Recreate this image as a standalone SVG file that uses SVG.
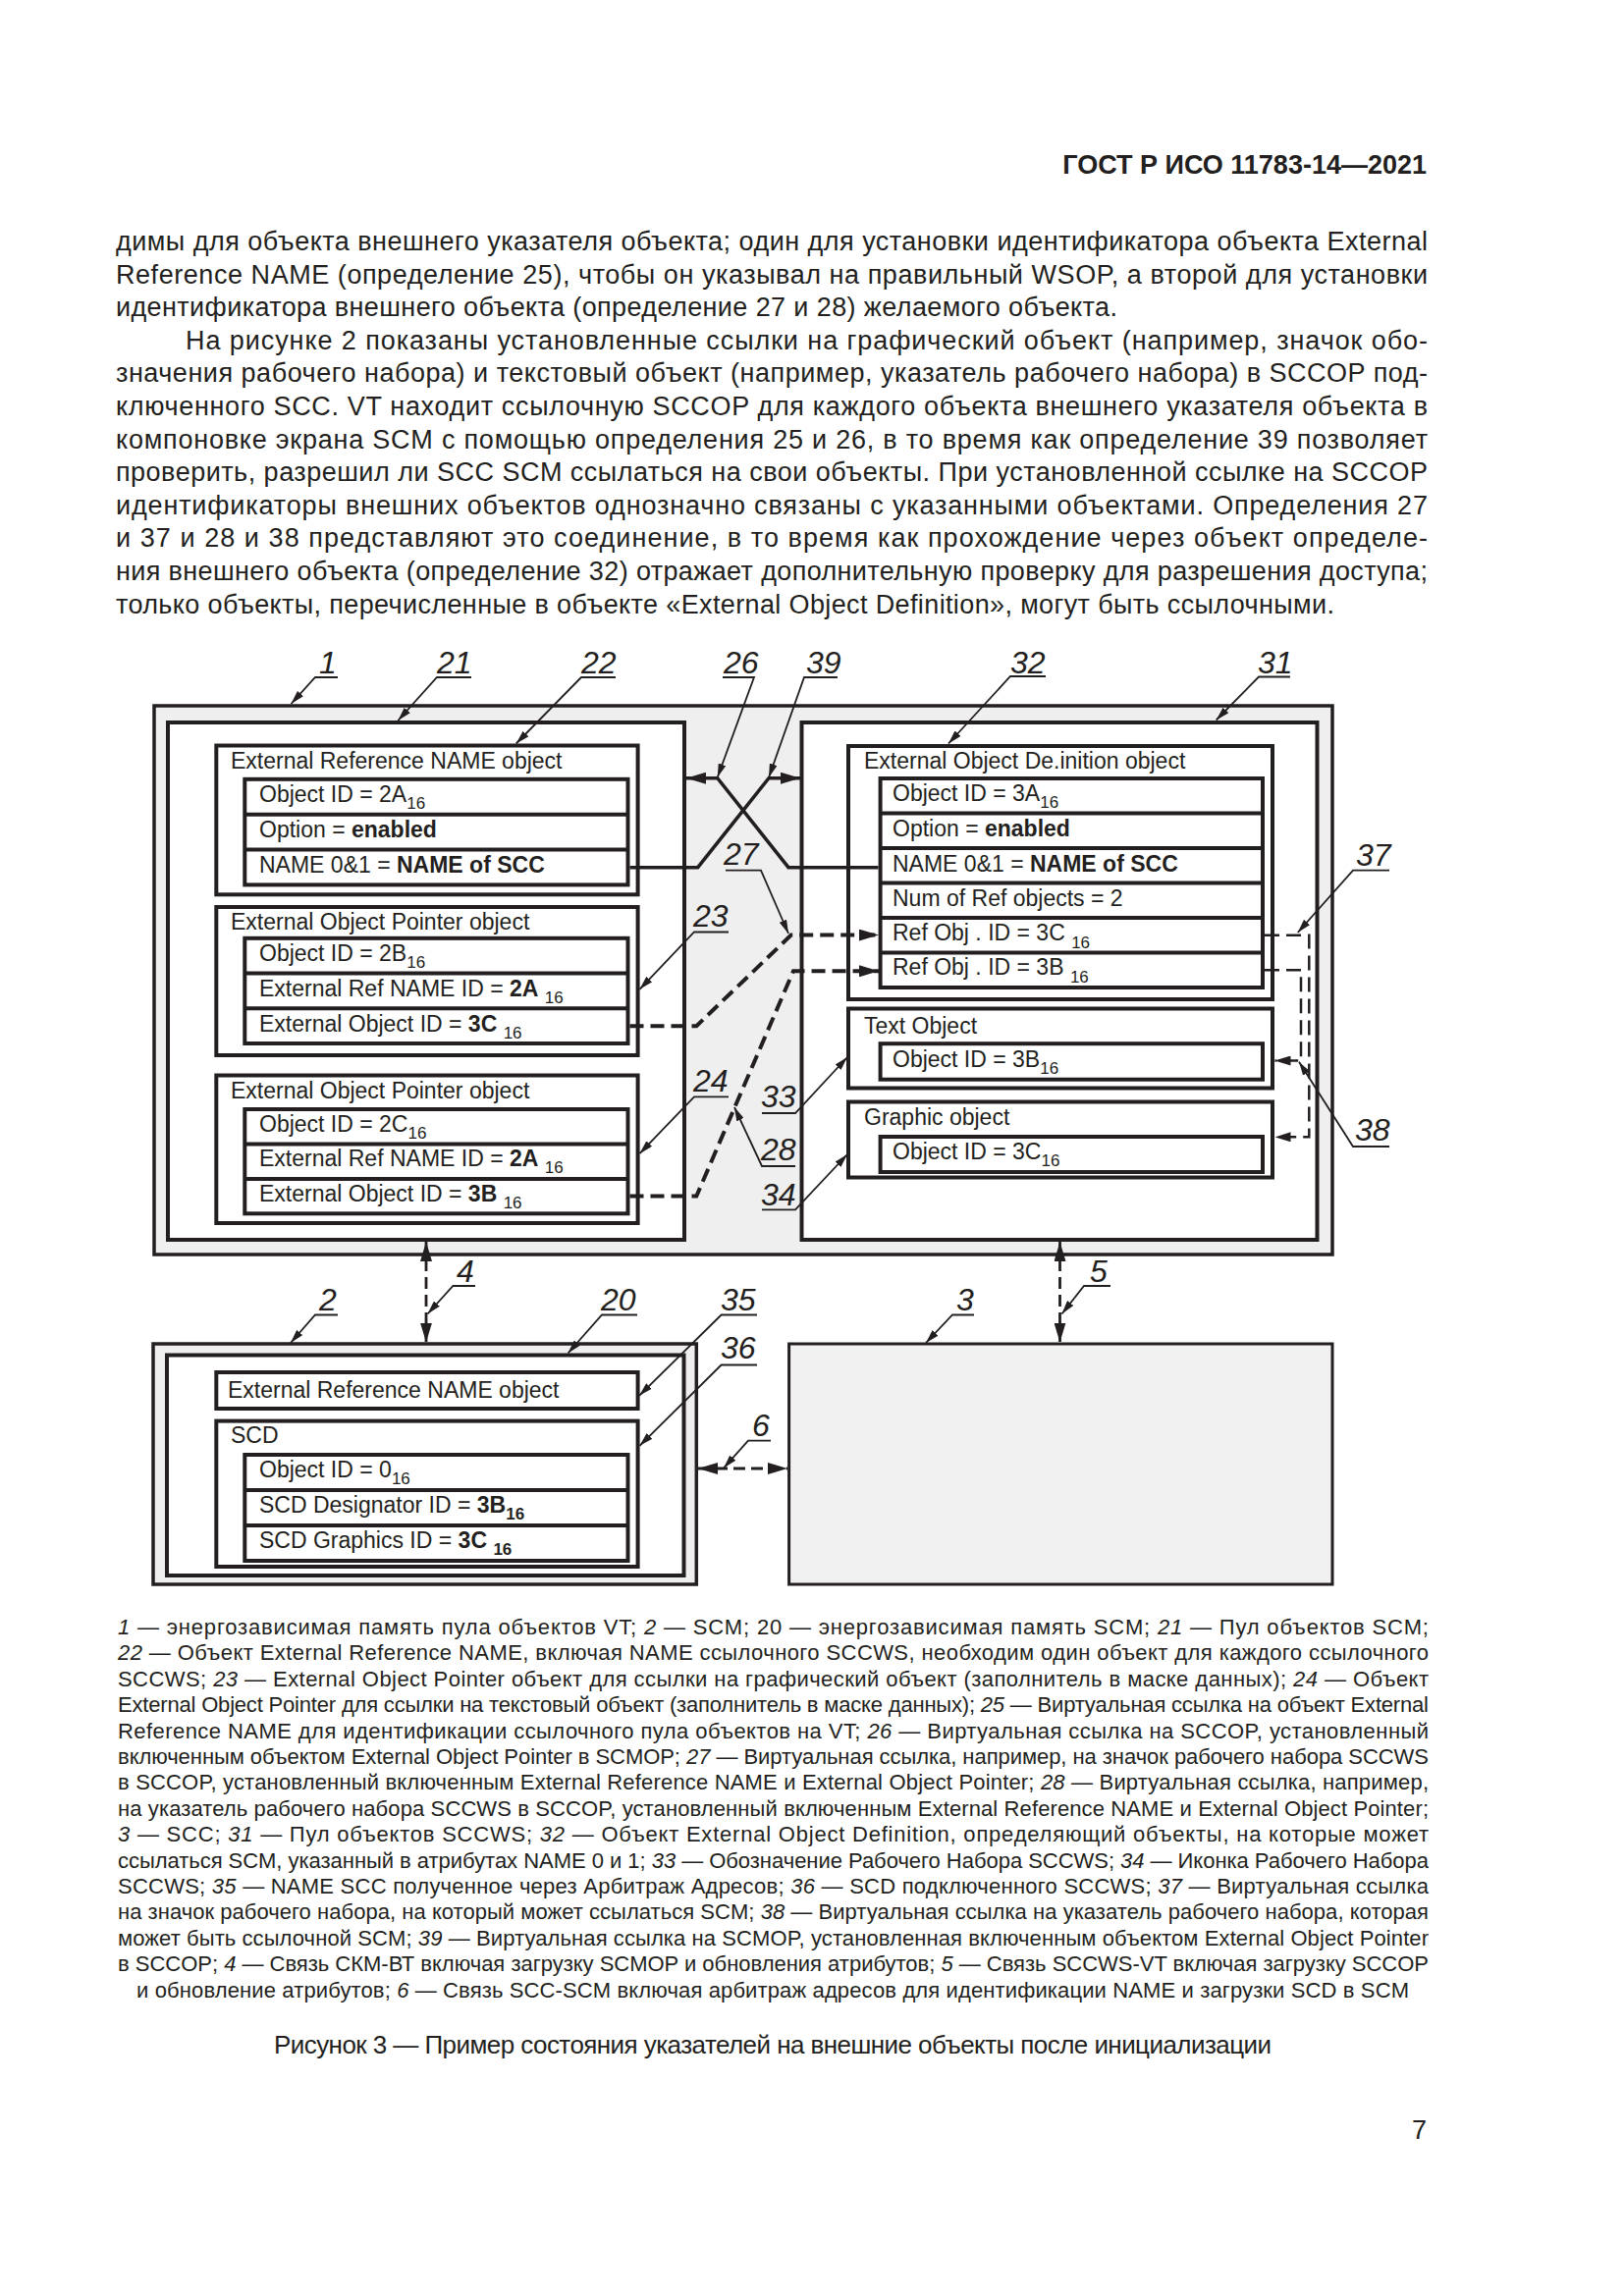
<svg xmlns="http://www.w3.org/2000/svg" width="1654" height="2339" viewBox="0 0 1654 2339">
<style>
text{font-family:"Liberation Sans",Arial,sans-serif;fill:#231f20}
.body{font-size:27px}
.hdr{font-size:27px;font-weight:bold}
.leg{font-size:22px}
.cap{font-size:26px}
.it{font-style:italic}
.lbl{font-size:32px;font-style:italic}
.fld{font-size:23px}
.b{font-weight:bold}
.frame{fill:#efefef;stroke:#231f20;stroke-width:3.5}
.pool{fill:#fff;stroke:#231f20;stroke-width:4}
.obj{fill:#fff;stroke:#231f20;stroke-width:4}
.sep{stroke:#231f20;stroke-width:4;fill:none}
.solid{fill:none;stroke:#231f20;stroke-width:3.5}
.dash{fill:none;stroke:#231f20;stroke-width:4;stroke-dasharray:14 7}
.dthin{fill:none;stroke:#231f20;stroke-width:2.5;stroke-dasharray:15 7}
.dlink{fill:none;stroke:#231f20;stroke-width:2.8;stroke-dasharray:12 6}
.ldr{fill:none;stroke:#231f20;stroke-width:1.8}
</style>
<defs>
<marker id="big" markerUnits="userSpaceOnUse" markerWidth="20" markerHeight="12" refX="20" refY="6" orient="auto-start-reverse"><path d="M0,0 L20,6 L0,12 z" fill="#231f20"/></marker>
<marker id="mid" markerUnits="userSpaceOnUse" markerWidth="16" markerHeight="10" refX="16" refY="5" orient="auto-start-reverse"><path d="M0,0 L16,5 L0,10 z" fill="#231f20"/></marker>
<marker id="sm" markerUnits="userSpaceOnUse" markerWidth="14" markerHeight="8" refX="14" refY="4" orient="auto"><path d="M0,0 L14,4 L0,8 z" fill="#231f20"/></marker>
</defs>
<rect width="1654" height="2339" fill="#fff"/>

<g id="page-text">
<text class="hdr" x="1453" y="177" text-anchor="end">ГОСТ Р ИСО 11783-14—2021</text>
<text class="body" x="118" y="255" textLength="1336" lengthAdjust="spacing">димы для объекта внешнего указателя объекта; один для установки идентификатора объекта External</text>
<text class="body" x="118" y="288.6" textLength="1336" lengthAdjust="spacing">Reference NAME (определение 25), чтобы он указывал на правильный WSOP, а второй для установки</text>
<text class="body" x="118" y="322.2" textLength="1020" lengthAdjust="spacing">идентификатора внешнего объекта (определение 27 и 28) желаемого объекта.</text>
<text class="body" x="189" y="355.8" textLength="1265" lengthAdjust="spacing">На рисунке 2 показаны установленные ссылки на графический объект (например, значок обо-</text>
<text class="body" x="118" y="389.4" textLength="1336" lengthAdjust="spacing">значения рабочего набора) и текстовый объект (например, указатель рабочего набора) в SCCOP под-</text>
<text class="body" x="118" y="423" textLength="1336" lengthAdjust="spacing">ключенного SCC. VT находит ссылочную SCCOP для каждого объекта внешнего указателя объекта в</text>
<text class="body" x="118" y="456.6" textLength="1336" lengthAdjust="spacing">компоновке экрана SCM с помощью определения 25 и 26, в то время как определение 39 позволяет</text>
<text class="body" x="118" y="490.2" textLength="1336" lengthAdjust="spacing">проверить, разрешил ли SCC SCM ссылаться на свои объекты. При установленной ссылке на SCCOP</text>
<text class="body" x="118" y="523.8" textLength="1336" lengthAdjust="spacing">идентификаторы внешних объектов однозначно связаны с указанными объектами. Определения 27</text>
<text class="body" x="118" y="557.4" textLength="1336" lengthAdjust="spacing">и 37 и 28 и 38 представляют это соединение, в то время как прохождение через объект определе-</text>
<text class="body" x="118" y="591" textLength="1336" lengthAdjust="spacing">ния внешнего объекта (определение 32) отражает дополнительную проверку для разрешения доступа;</text>
<text class="body" x="118" y="624.6" textLength="1241" lengthAdjust="spacing">только объекты, перечисленные в объекте «External Object Definition», могут быть ссылочными.</text>
</g>

<g id="node-1"><rect class="frame" x="157" y="719" width="1200" height="559"/></g>
<g id="node-21"><rect class="pool" x="171" y="736" width="526" height="527"/></g>
<g id="node-31"><rect class="pool" x="816.5" y="736" width="525" height="527"/></g>

<g id="node-22">
<rect class="obj" x="220.3" y="759.5" width="429.3" height="151.8"/>
<text class="fld" x="235" y="783">External Reference NAME object</text>
<rect class="obj" x="249.3" y="793.8" width="390.2" height="107.6"/>
<path class="sep" d="M249.3,829.7 H639.5 M249.3,865.5 H639.5"/>
<text class="fld" x="264" y="817">Object ID = 2A<tspan font-size="17" dy="7">16</tspan></text>
<text class="fld" x="264" y="853">Option = <tspan class="b">enabled</tspan></text>
<text class="fld" x="264" y="889">NAME 0&amp;1 = <tspan class="b">NAME of SCC</tspan></text>
</g>

<g id="node-23">
<rect class="obj" x="220.3" y="924" width="429.3" height="151"/>
<text class="fld" x="235" y="947">External Object Pointer object</text>
<rect class="obj" x="249.3" y="955.8" width="390.2" height="107.2"/>
<path class="sep" d="M249.3,991.5 H639.5 M249.3,1027.3 H639.5"/>
<text class="fld" x="264" y="979">Object ID = 2B<tspan font-size="17" dy="7">16</tspan></text>
<text class="fld" x="264" y="1015">External Ref NAME ID = <tspan class="b">2A</tspan> <tspan font-size="17" dy="7">16</tspan></text>
<text class="fld" x="264" y="1051">External Object ID = <tspan class="b">3C</tspan> <tspan font-size="17" dy="7">16</tspan></text>
</g>

<g id="node-24">
<rect class="obj" x="220.3" y="1095.5" width="429.3" height="150.5"/>
<text class="fld" x="235" y="1119">External Object Pointer object</text>
<rect class="obj" x="249.3" y="1130" width="390.2" height="106.3"/>
<path class="sep" d="M249.3,1165.4 H639.5 M249.3,1200.9 H639.5"/>
<text class="fld" x="264" y="1153">Object ID = 2C<tspan font-size="17" dy="7">16</tspan></text>
<text class="fld" x="264" y="1188">External Ref NAME ID = <tspan class="b">2A</tspan> <tspan font-size="17" dy="7">16</tspan></text>
<text class="fld" x="264" y="1224">External Object ID = <tspan class="b">3B</tspan> <tspan font-size="17" dy="7">16</tspan></text>
</g>

<g id="node-32">
<rect class="obj" x="864" y="760" width="432" height="258"/>
<text class="fld" x="880" y="783">External Object De.inition object</text>
<rect class="obj" x="896.6" y="793" width="389.4" height="213"/>
<path class="sep" d="M896.6,828.5 H1286 M896.6,864 H1286 M896.6,899.5 H1286 M896.6,935 H1286 M896.6,970.5 H1286"/>
<text class="fld" x="909" y="816">Object ID = 3A<tspan font-size="17" dy="7">16</tspan></text>
<text class="fld" x="909" y="852">Option = <tspan class="b">enabled</tspan></text>
<text class="fld" x="909" y="888">NAME 0&amp;1 = <tspan class="b">NAME of SCC</tspan></text>
<text class="fld" x="909" y="923">Num of Ref objects = 2</text>
<text class="fld" x="909" y="958">Ref Obj . ID = 3C <tspan font-size="17" dy="8">16</tspan></text>
<text class="fld" x="909" y="993">Ref Obj . ID = 3B <tspan font-size="17" dy="8">16</tspan></text>
</g>

<g id="node-33">
<rect class="obj" x="864" y="1027.5" width="432" height="81"/>
<text class="fld" x="880" y="1053">Text Object</text>
<rect class="obj" x="896.6" y="1063.2" width="389.4" height="36.5"/>
<text class="fld" x="909" y="1087">Object ID = 3B<tspan font-size="17" dy="7">16</tspan></text>
</g>

<g id="node-34">
<rect class="obj" x="864" y="1122.5" width="432" height="77"/>
<text class="fld" x="880" y="1146">Graphic object</text>
<rect class="obj" x="896.6" y="1158" width="389.4" height="36"/>
<text class="fld" x="909" y="1181">Object ID = 3C<tspan font-size="17" dy="7">16</tspan></text>
</g>

<g id="node-2"><rect class="frame" x="156" y="1369" width="553.3" height="245" stroke-width="3"/></g>
<g id="node-20"><rect class="pool" x="170" y="1380.5" width="526.5" height="224.5"/></g>
<g id="node-35">
<rect class="obj" x="220.3" y="1398" width="429.3" height="37"/>
<text class="fld" x="232" y="1424">External Reference NAME object</text>
</g>
<g id="node-36">
<rect class="obj" x="220.3" y="1447.6" width="429.3" height="148.4"/>
<text class="fld" x="235" y="1470">SCD</text>
<rect class="obj" x="249.3" y="1482" width="390.2" height="108"/>
<path class="sep" d="M249.3,1518 H639.5 M249.3,1554 H639.5"/>
<text class="fld" x="264" y="1505">Object ID = 0<tspan font-size="17" dy="7">16</tspan></text>
<text class="fld" x="264" y="1541">SCD Designator ID = <tspan class="b">3B<tspan font-size="17" dy="7">16</tspan></tspan></text>
<text class="fld" x="264" y="1577">SCD Graphics ID = <tspan class="b">3C <tspan font-size="17" dy="7">16</tspan></tspan></text>
</g>
<g id="node-3"><rect x="803.6" y="1369" width="553.4" height="245" fill="#f1f1f1" stroke="#231f20" stroke-width="3"/></g>

<g id="connectors">
<path class="solid" d="M894.6,883.7 H803 L730.7,792.7 H699" marker-end="url(#big)"/>
<path class="solid" d="M641.5,883.7 H710.7 L783,792.7 H815" marker-end="url(#big)"/>
<path class="dash" d="M641.5,1045.2 H709.3 L805.7,952.6 H895" marker-end="url(#big)"/>
<path class="dash" d="M641.5,1218.6 H709.3 L808,989.3 H895" marker-end="url(#big)"/>
<path class="dthin" d="M1288,952.7 H1333.3 V1158.3 H1298.5" marker-end="url(#mid)"/>
<path class="dthin" d="M1288,988.3 H1325 V1080.5 H1298.5" marker-end="url(#mid)"/>
<path class="dlink" d="M434,1265 V1367.5" marker-start="url(#big)" marker-end="url(#big)"/>
<path class="dlink" d="M1079.5,1265 V1367.5" marker-start="url(#big)" marker-end="url(#big)"/>
<path class="dlink" d="M711,1496 H802" marker-start="url(#big)" marker-end="url(#big)"/>
</g>

<g id="leaders">
<path class="ldr" d="M344,690 H321 L296.5,717" marker-end="url(#sm)"/>
<path class="ldr" d="M480,690 H445 L405.4,734" marker-end="url(#sm)"/>
<path class="ldr" d="M627,690 H592 L525.7,757.5" marker-end="url(#sm)"/>
<path class="ldr" d="M736,690 H768 L730.7,792" marker-end="url(#sm)"/>
<path class="ldr" d="M853,690 H819 L783,792" marker-end="url(#sm)"/>
<path class="ldr" d="M1065,689 H1029 L966,757.5" marker-end="url(#sm)"/>
<path class="ldr" d="M1314,689.5 H1282 L1238.7,733.5" marker-end="url(#sm)"/>
<path class="ldr" d="M1415,886.7 H1378 L1321.7,950" marker-end="url(#sm)"/>
<path class="ldr" d="M1415,1168 H1378 L1323,1081.7" marker-end="url(#sm)"/>
<path class="ldr" d="M742,949.5 H707 L651.5,1007.8" marker-end="url(#sm)"/>
<path class="ldr" d="M742,1117.3 H707 L651.5,1175.2" marker-end="url(#sm)"/>
<path class="ldr" d="M739,886.7 H775 L803,951" marker-end="url(#sm)"/>
<path class="ldr" d="M776,1134 H810 L863,1077" marker-end="url(#sm)"/>
<path class="ldr" d="M810,1188 H776 L748,1128" marker-end="url(#sm)"/>
<path class="ldr" d="M776,1232.4 H810 L863,1176" marker-end="url(#sm)"/>
<path class="ldr" d="M484,1310 H461.4 L435.5,1338.5" marker-end="url(#sm)"/>
<path class="ldr" d="M1131,1310 H1104 L1081.5,1338.5" marker-end="url(#sm)"/>
<path class="ldr" d="M344,1339.5 H321 L296,1368" marker-end="url(#sm)"/>
<path class="ldr" d="M649,1339.5 H613 L578.5,1378.5" marker-end="url(#sm)"/>
<path class="ldr" d="M771,1339.5 H734.6 L651,1421.8" marker-end="url(#sm)"/>
<path class="ldr" d="M771,1390.5 H734.6 L651.5,1472.8" marker-end="url(#sm)"/>
<path class="ldr" d="M785,1467.7 H762 L737,1495.6" marker-end="url(#sm)"/>
<path class="ldr" d="M992,1339.5 H970 L943,1368" marker-end="url(#sm)"/>
</g>

<g id="labels">
<text class="lbl" x="325" y="686">1</text>
<text class="lbl" x="445" y="686">21</text>
<text class="lbl" x="592" y="686">22</text>
<text class="lbl" x="737" y="686">26</text>
<text class="lbl" x="821" y="686">39</text>
<text class="lbl" x="1029" y="686">32</text>
<text class="lbl" x="1281" y="686">31</text>
<text class="lbl" x="1381" y="882">37</text>
<text class="lbl" x="1380" y="1162">38</text>
<text class="lbl" x="706" y="944">23</text>
<text class="lbl" x="706" y="1112">24</text>
<text class="lbl" x="737" y="881">27</text>
<text class="lbl" x="775" y="1128">33</text>
<text class="lbl" x="775" y="1182">28</text>
<text class="lbl" x="775" y="1228">34</text>
<text class="lbl" x="465" y="1306">4</text>
<text class="lbl" x="1110" y="1306">5</text>
<text class="lbl" x="325" y="1335">2</text>
<text class="lbl" x="612" y="1335">20</text>
<text class="lbl" x="734" y="1335">35</text>
<text class="lbl" x="734" y="1384">36</text>
<text class="lbl" x="766" y="1463">6</text>
<text class="lbl" x="974" y="1335">3</text>
</g>

<g id="legend">
<text class="leg" x="120" y="1665" textLength="1335" lengthAdjust="spacing"><tspan class="it">1</tspan> — энергозависимая память пула объектов VT; <tspan class="it">2</tspan> — SCM; 20 — энергозависимая память SCM; <tspan class="it">21</tspan> — Пул объектов SCM;</text>
<text class="leg" x="120" y="1691.4" textLength="1335" lengthAdjust="spacing"><tspan class="it">22</tspan> — Объект External Reference NAME, включая NAME ссылочного SCCWS, необходим один объект для каждого ссылочного</text>
<text class="leg" x="120" y="1717.8" textLength="1335" lengthAdjust="spacing">SCCWS; <tspan class="it">23</tspan> — External Object Pointer объект для ссылки на графический объект (заполнитель в маске данных); <tspan class="it">24</tspan> — Объект</text>
<text class="leg" x="120" y="1744.2" textLength="1335" lengthAdjust="spacing">External Object Pointer для ссылки на текстовый объект (заполнитель в маске данных); <tspan class="it">25</tspan> — Виртуальная ссылка на объект External</text>
<text class="leg" x="120" y="1770.6" textLength="1335" lengthAdjust="spacing">Reference NAME для идентификации ссылочного пула объектов на VT; <tspan class="it">26</tspan> — Виртуальная ссылка на SCCOP, установленный</text>
<text class="leg" x="120" y="1797" textLength="1335" lengthAdjust="spacing">включенным объектом External Object Pointer в SCMOP; <tspan class="it">27</tspan> — Виртуальная ссылка, например, на значок рабочего набора SCCWS</text>
<text class="leg" x="120" y="1823.4" textLength="1335" lengthAdjust="spacing">в SCCOP, установленный включенным External Reference NAME и External Object Pointer; <tspan class="it">28</tspan> — Виртуальная ссылка, например,</text>
<text class="leg" x="120" y="1849.8" textLength="1335" lengthAdjust="spacing">на указатель рабочего набора SCCWS в SCCOP, установленный включенным External Reference NAME и External Object Pointer;</text>
<text class="leg" x="120" y="1876.2" textLength="1335" lengthAdjust="spacing"><tspan class="it">3</tspan> — SCC; <tspan class="it">31</tspan> — Пул объектов SCCWS; <tspan class="it">32</tspan> — Объект External Object Definition, определяющий объекты, на которые может</text>
<text class="leg" x="120" y="1902.6" textLength="1335" lengthAdjust="spacing">ссылаться SCM, указанный в атрибутах NAME 0 и 1; <tspan class="it">33</tspan> — Обозначение Рабочего Набора SCCWS; <tspan class="it">34</tspan> — Иконка Рабочего Набора</text>
<text class="leg" x="120" y="1929" textLength="1335" lengthAdjust="spacing">SCCWS; <tspan class="it">35</tspan> — NAME SCC полученное через Арбитраж Адресов; <tspan class="it">36</tspan> — SCD подключенного SCCWS; <tspan class="it">37</tspan> — Виртуальная ссылка</text>
<text class="leg" x="120" y="1955.4" textLength="1335" lengthAdjust="spacing">на значок рабочего набора, на который может ссылаться SCM; <tspan class="it">38</tspan> — Виртуальная ссылка на указатель рабочего набора, которая</text>
<text class="leg" x="120" y="1981.8" textLength="1335" lengthAdjust="spacing">может быть ссылочной SCM; <tspan class="it">39</tspan> — Виртуальная ссылка на SCMOP, установленная включенным объектом External Object Pointer</text>
<text class="leg" x="120" y="2008.2" textLength="1335" lengthAdjust="spacing">в SCCOP; <tspan class="it">4</tspan> — Связь СКМ-ВТ включая загрузку SCMOP и обновления атрибутов; <tspan class="it">5</tspan> — Связь SCCWS-VT включая загрузку SCCOP</text>
<text class="leg" x="787" y="2034.6" text-anchor="middle" textLength="1296" lengthAdjust="spacing">и обновление атрибутов; <tspan class="it">6</tspan> — Связь SCC-SCM включая арбитраж адресов для идентификации NAME и загрузки SCD в SCM</text>
<text class="cap" x="787" y="2092" text-anchor="middle" textLength="1016" lengthAdjust="spacing">Рисунок 3 — Пример состояния указателей на внешние объекты после инициализации</text>
<text class="body" x="1453" y="2179" text-anchor="end">7</text>
</g>
</svg>
